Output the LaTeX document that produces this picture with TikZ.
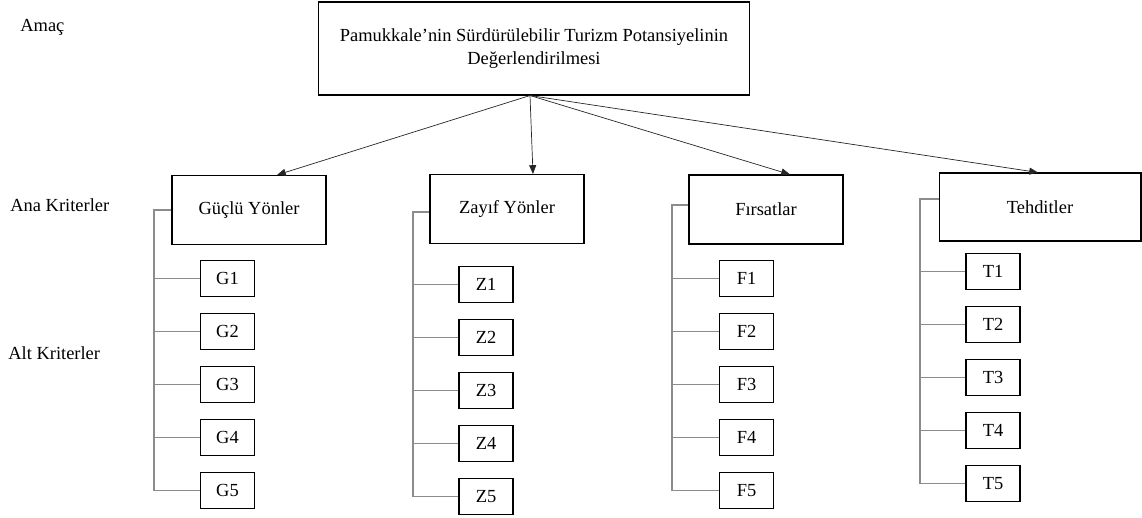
\documentclass[tikz,border=0pt]{standalone}
\usepackage{fontspec}
\setmainfont{Liberation Serif}
\usetikzlibrary{arrows.meta,positioning}
\tikzset{%
  arrow/.style={black!85,-{Triangle[length=5pt,width=4pt]}},
  bracket/.style={black!45,semithick},
  goalbox/.style={draw,semithick,minimum width=8.64cm,minimum height=1.86cm,align=center},
  mainbox/.style={draw,semithick,minimum width=3.08cm,minimum height=1.38cm},
  subbox/.style={draw,semithick,minimum width=1.08cm,minimum height=0.72cm},
  level/.style={anchor=west,inner sep=0pt},
}

\begin{document}
\begin{tikzpicture}[x=0.02cm,y=-0.02cm,node distance=0.318cm,font=\fontsize{10.5}{13}\selectfont]
      \useasboundingbox (0,0) rectangle (1142,517);

      % levels
      \node[level] (amac) at (20,27) {Amaç};
      \node[level] (ana) at (10,205) {Ana Kriterler};
      \node[level] (alt) at (8,353) {Alt Kriterler};

      % goal and main criteria
      \node[goalbox] (goal) at (534,48.5) {Pamukkale’nin Sürdürülebilir Turizm Potansiyelinin\\Değerlendirilmesi};
      \node[mainbox] (guclu) at (249,210) {Güçlü Yönler};
      \node[mainbox] (zayif) at (507,209) {Zayıf Yönler};
      \node[mainbox] (firsat) at (766,209.5) {Fırsatlar};
      \node[mainbox,minimum width=4.04cm,minimum height=1.36cm] (tehdit) at (1040,207) {Tehditler};

      % sub criteria
      \node[subbox] (g1) at (227.5,278.5) {G1};
      \node[subbox,below=of g1] (g2) {G2};
      \node[subbox,below=of g2] (g3) {G3};
      \node[subbox,below=of g3] (g4) {G4};
      \node[subbox,below=of g4] (g5) {G5};

      \node[subbox] (z1) at (486,284.5) {Z1};
      \node[subbox,below=of z1] (z2) {Z2};
      \node[subbox,below=of z2] (z3) {Z3};
      \node[subbox,below=of z3] (z4) {Z4};
      \node[subbox,below=of z4] (z5) {Z5};

      \node[subbox] (f1) at (746.5,278.5) {F1};
      \node[subbox,below=of f1] (f2) {F2};
      \node[subbox,below=of f2] (f3) {F3};
      \node[subbox,below=of f3] (f4) {F4};
      \node[subbox,below=of f4] (f5) {F5};

      \node[subbox] (t1) at (993,271.5) {T1};
      \node[subbox,below=of t1] (t2) {T2};
      \node[subbox,below=of t2] (t3) {T3};
      \node[subbox,below=of t3] (t4) {T4};
      \node[subbox,below=of t4] (t5) {T5};

      % arrows
      \coordinate (hub) at ([xshift=-0.08cm]goal.south);
      \draw[arrow] (hub) -- ([xshift=0.56cm]guclu.north);
      \draw[arrow] (hub) -- ([xshift=0.52cm]zayif.north);
      \draw[arrow] (hub) -- ([xshift=0.48cm]firsat.north);
      \draw[arrow] (hub) -- ([xshift=-0.04cm]tehdit.north);

      % brackets
      \coordinate (gbar) at (154,0);
      \draw[bracket] (guclu.west) -| (gbar |- g5.west) -- (g5.west);
      \draw[bracket] (gbar |- g1.west) -- (g1.west);
      \draw[bracket] (gbar |- g2.west) -- (g2.west);
      \draw[bracket] (gbar |- g3.west) -- (g3.west);
      \draw[bracket] (gbar |- g4.west) -- (g4.west);

      \coordinate (zbar) at (413,0);
      \draw[bracket] ([yshift=-0.06cm]zayif.west) -| (zbar |- z5.west) -- (z5.west);
      \draw[bracket] (zbar |- z1.west) -- (z1.west);
      \draw[bracket] (zbar |- z2.west) -- (z2.west);
      \draw[bracket] (zbar |- z3.west) -- (z3.west);
      \draw[bracket] (zbar |- z4.west) -- (z4.west);

      \coordinate (fbar) at (672,0);
      \draw[bracket] ([yshift=0.09cm]firsat.west) -| (fbar |- f5.west) -- (f5.west);
      \draw[bracket] (fbar |- f1.west) -- (f1.west);
      \draw[bracket] (fbar |- f2.west) -- (f2.west);
      \draw[bracket] (fbar |- f3.west) -- (f3.west);
      \draw[bracket] (fbar |- f4.west) -- (f4.west);

      \coordinate (tbar) at (920,0);
      \draw[bracket] ([yshift=0.16cm]tehdit.west) -| (tbar |- t5.west) -- (t5.west);
      \draw[bracket] (tbar |- t1.west) -- (t1.west);
      \draw[bracket] (tbar |- t2.west) -- (t2.west);
      \draw[bracket] (tbar |- t3.west) -- (t3.west);
      \draw[bracket] (tbar |- t4.west) -- (t4.west);
\end{tikzpicture}
\end{document}
